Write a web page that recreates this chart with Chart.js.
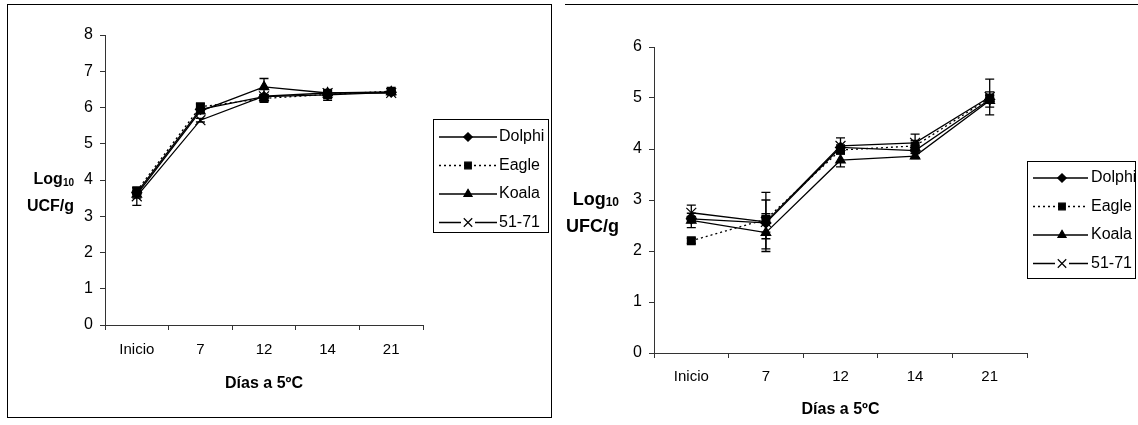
<!DOCTYPE html>
<html>
<head>
<meta charset="utf-8">
<script src="https://cdn.jsdelivr.net/npm/chart.js@4/dist/chart.umd.min.js"></script>
<style>
  body { margin: 0; background: #fff; width: 1138px; height: 425px; overflow: hidden; position: relative; }
  #leftBox { position: absolute; left: 7px; top: 4px; width: 543px; height: 412px; border: 1px solid #000; }
  #rightLine { position: absolute; left: 565px; top: 4px; width: 573px; height: 0; border-top: 1px solid #000; }
  #leftWrap { position: absolute; left: 0; top: 0; width: 560px; height: 425px; }
  #rightWrap { position: absolute; left: 560px; top: 0; width: 578px; height: 425px; }
</style>
</head>
<body>
<div id="leftBox"></div>
<div id="rightLine"></div>
<div id="leftWrap"><canvas id="leftChart"></canvas></div>
<div id="rightWrap"><canvas id="rightChart"></canvas></div>
<script>
// categories and series (Log10 counts)
var categories = ["Inicio", "7", "12", "14", "21"];
var seriesNames = ["Dolphi", "Eagle", "Koala", "51-71"];

var leftDolphi = [3.65, 5.95, 6.30, 6.35, 6.42];
var leftEagle = [3.70, 6.02, 6.25, 6.36, 6.45];
var leftKoala = [3.60, 5.90, 6.57, 6.40, 6.43];
var left5171 = [3.55, 5.65, 6.31, 6.40, 6.40];
var leftDolphiErr = [0.05, 0.05, 0.05, 0.15, 0.02];
var leftEagleErr = [0.08, 0.08, 0.05, 0.03, 0.02];
var leftKoalaErr = [0.10, 0.05, 0.23, 0.05, 0.02];
var left5171Err = [0.25, 0.05, 0.05, 0.05, 0.03];

var rightDolphi = [2.63, 2.55, 4.03, 3.97, 4.97];
var rightEagle = [2.20, 2.62, 3.98, 4.06, 5.00];
var rightKoala = [2.60, 2.36, 3.78, 3.86, 4.95];
var right5171 = [2.75, 2.57, 4.06, 4.12, 5.02];
var rightDolphiErr = [0.05, 0.18, 0.05, 0.05, 0.15];
var rightEagleErr = [0.05, 0.38, 0.05, 0.23, 0.05];
var rightKoalaErr = [0.14, 0.32, 0.13, 0.05, 0.05];
var right5171Err = [0.15, 0.58, 0.16, 0.05, 0.35];

var leftTicks = [0, 1, 2, 3, 4, 5, 6, 7, 8];
var rightTicks = [0, 1, 2, 3, 4, 5, 6];

var FONT = "'Liberation Sans', Arial, sans-serif";

function makeDatasets(values, errors) {
    var styles = [
        { pointStyle: "rectRot", pointRadius: 5, borderDash: [] },
        { pointStyle: "rect", pointRadius: 5.5, borderDash: [2, 3] },
        { pointStyle: "triangle", pointRadius: 5.5, borderDash: [] },
        { pointStyle: "crossRot", pointRadius: 7, borderDash: [] },
    ];
    return values.map(function (v, i) {
        return {
            label: seriesNames[i],
            data: v,
            errors: errors[i],
            borderColor: "#000",
            backgroundColor: "#000",
            pointBackgroundColor: "#000",
            pointBorderColor: "#000",
            pointBorderWidth: 1.2,
            borderWidth: 1.3,
            borderDash: styles[i].borderDash,
            pointStyle: styles[i].pointStyle,
            pointRadius: styles[i].pointRadius,
            pointHoverRadius: styles[i].pointRadius,
            fill: false,
            tension: 0,
        };
    });
}

// error bars drawn through the y scale
var errorBars = {
    id: "errorBars",
    beforeDatasetsDraw: function (chart) {
        var ctx = chart.ctx;
        var y = chart.scales.y;
        ctx.save();
        ctx.strokeStyle = "#000";
        ctx.lineWidth = 1.3;
        chart.data.datasets.forEach(function (ds, di) {
            var meta = chart.getDatasetMeta(di);
            ds.data.forEach(function (v, i) {
                var e = ds.errors[i];
                var x = meta.data[i].x;
                var top = y.getPixelForValue(v + e);
                var bot = y.getPixelForValue(v - e);
                ctx.beginPath();
                ctx.moveTo(x, top); ctx.lineTo(x, bot);
                ctx.moveTo(x - 4.5, top); ctx.lineTo(x + 4.5, top);
                ctx.moveTo(x - 4.5, bot); ctx.lineTo(x + 4.5, bot);
                ctx.stroke();
            });
        });
        ctx.restore();
    },
};

// horizontal y title and boxed legend
var extras = {
    id: "extras",
    afterDraw: function (chart) {
        var o = chart.options.plugins.extras;
        var ctx = chart.ctx;
        var y = chart.scales.y;
        ctx.save();
        ctx.fillStyle = "#000";
        ctx.textBaseline = "middle";
        // y title
        var ty = y.getPixelForValue(o.titleAt);
        ctx.font = "bold " + o.titleSize + "px " + FONT;
        ctx.textAlign = "right";
        ctx.fillText(o.unit, o.titleRight, ty + o.titleGap);
        ctx.font = "bold " + Math.round(o.titleSize * 0.65) + "px " + FONT;
        var subW = ctx.measureText("10").width;
        ctx.fillText("10", o.titleRight, ty + 3);
        ctx.font = "bold " + o.titleSize + "px " + FONT;
        ctx.fillText("Log", o.titleRight - subW, ty);

        // legend box
        var b = o.legend;
        ctx.strokeStyle = "#000";
        ctx.lineWidth = 1;
        ctx.strokeRect(b.x1 + 0.5, b.y1 + 0.5, b.x2 - b.x1, b.y2 - b.y1);
        ctx.font = o.legendSize + "px " + FONT;
        ctx.textAlign = "left";
        chart.data.datasets.forEach(function (ds, i) {
            var ry = b.y1 + b.first + i * b.step;
            ctx.save();
            ctx.lineWidth = 1.3;
            ctx.setLineDash(ds.borderDash);
            ctx.beginPath();
            if (ds.pointStyle === "crossRot") {
                ctx.moveTo(b.lx1, ry); ctx.lineTo(b.mx - 7, ry);
                ctx.moveTo(b.mx + 7, ry); ctx.lineTo(b.lx2, ry);
            } else {
                ctx.moveTo(b.lx1, ry); ctx.lineTo(b.lx2, ry);
            }
            ctx.stroke();
            ctx.restore();
            if (Chart.helpers && Chart.helpers.drawPoint) {
                ctx.save();
                ctx.fillStyle = "#000";
                ctx.strokeStyle = "#000";
                ctx.lineWidth = 1.2;
                Chart.helpers.drawPoint(ctx, {
                    pointStyle: ds.pointStyle,
                    radius: ds.pointRadius * 0.85,
                    rotation: 0,
                    borderWidth: 1.2,
                }, b.mx, ry);
                ctx.restore();
            }
            ctx.fillText(ds.label, b.tx, ry);
        });
        ctx.restore();
    },
};

function buildChart(id, values, errors, ticks, cfg) {
    var ctx = document.getElementById(id).getContext("2d");
    return new Chart(ctx, {
        type: "line",
        data: { labels: categories, datasets: makeDatasets(values, errors) },
        plugins: [errorBars, extras],
        options: {
            responsive: true,
            maintainAspectRatio: false,
            animation: false,
            layout: { padding: cfg.padding },
            scales: {
                x: {
                    offset: true,
                    grid: { offset: true, drawOnChartArea: false, drawTicks: true, tickLength: 5, color: "#333" },
                    border: { color: "#333", width: 1 },
                    ticks: { color: "#000", padding: cfg.xPad, font: { family: FONT, size: 15 } },
                    title: { display: true, text: "Días a 5ºC", color: "#000", padding: 0, font: { family: FONT, size: 16, weight: "bold" } },
                    afterFit: function (s) { s.height = cfg.xHeight; },
                },
                y: {
                    min: ticks[0],
                    max: ticks[ticks.length - 1],
                    grid: { drawOnChartArea: false, drawTicks: true, tickLength: 5, color: "#333" },
                    border: { color: "#333", width: 1 },
                    ticks: { stepSize: 1, color: "#000", padding: 7, font: { family: FONT, size: 16 } },
                    afterFit: function (s) { s.width = 40; },
                },
            },
            plugins: {
                legend: { display: false },
                tooltip: { enabled: false },
                extras: cfg.extras,
            },
        },
    });
}

document.addEventListener("DOMContentLoaded", function () {
    buildChart("leftChart",
        [leftDolphi, leftEagle, leftKoala, left5171],
        [leftDolphiErr, leftEagleErr, leftKoalaErr, left5171Err],
        leftTicks,
        {
            padding: { left: 65, right: 137, top: 35, bottom: 32 },
            xHeight: 68,
            xPad: 11,
            extras: {
                unit: "UCF/g", titleAt: 4, titleGap: 27, titleRight: 74, titleSize: 16, legendSize: 16,
                legend: { x1: 433, y1: 119, x2: 548, y2: 232, first: 18, step: 28.5, lx1: 439, lx2: 497, mx: 468, tx: 499 },
            },
        });
    buildChart("rightChart",
        [rightDolphi, rightEagle, rightKoala, right5171],
        [rightDolphiErr, rightEagleErr, rightKoalaErr, right5171Err],
        rightTicks,
        {
            padding: { left: 54, right: 111, top: 47, bottom: 6 },
            xHeight: 66,
            xPad: 10,
            extras: {
                unit: "UFC/g", titleAt: 3, titleGap: 27, titleRight: 59, titleSize: 18, legendSize: 16,
                legend: { x1: 467, y1: 161, x2: 575, y2: 278, first: 17, step: 28.5, lx1: 473, lx2: 528, mx: 502, tx: 531 },
            },
        });
});
</script>
</body>
</html>
